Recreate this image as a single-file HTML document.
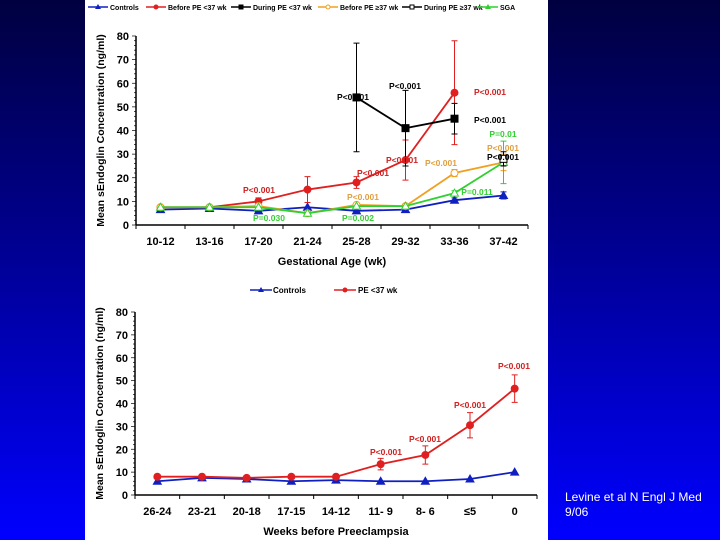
<!DOCTYPE html>
<html><head><meta charset="utf-8"><style>
body{margin:0;width:720px;height:540px;overflow:hidden;background:linear-gradient(#000040,#000090 45%,#0000ff);font-family:"Liberation Sans",sans-serif}
#panel{position:absolute;left:85px;top:0;width:463px;height:540px;background:#fff}
#cite{position:absolute;left:565px;top:490px;color:#fff;font-size:12px;line-height:15px}
svg{position:absolute;left:0;top:0}
</style></head><body>
<div id="panel"></div>
<div id="cite">Levine et al N Engl J Med<br>9/06</div>
<svg id="s" width="720" height="540"></svg>
<script>
const cats1=["10-12","13-16","17-20","21-24","25-28","29-32","33-36","37-42"];
const controls1=[6.5,7,6,7.5,6,6.5,10.5,12.5];
const controlsErr1=[0.5,0.5,0.5,0.5,0.5,0.5,1,1.5];
const beforePE37=[7.5,7.5,10,15,18,27.5,56,null];
const beforePE37Err=[0.5,0.5,1.5,5.5,2.5,8.5,22,0];
const duringPE37=[null,null,null,null,54,41,45,null];
const duringPE37Err=[0,0,0,0,23,16,6.5,0];
const beforePEge37=[7.5,7.5,8,5,8.5,8,22,26.5];
const beforePEge37Err=[0.5,0.5,0.5,0.5,0.5,0.5,1.5,3.5];
const duringPEge37=[null,null,null,null,null,null,null,28];
const duringPEge37Err=[0,0,0,0,0,0,0,3];
const sga=[7.5,7.5,7.5,5,8,8,13.5,26.5];
const sgaErr=[0.5,0.5,0.5,0.5,0.5,0.5,1,9];
const yTicks=[0,10,20,30,40,50,60,70,80];
const cats2=["26-24","23-21","20-18","17-15","14-12","11- 9","8- 6","≤5","0"];
const controls2=[6,7.5,7,6,6.5,6,6,7,10];
const pe2=[8,8,7.5,8,8,13.5,17.5,30.5,46.5];
const pe2Err=[0.5,0.5,0.5,0.5,0.5,2.5,4,5.5,6];

const S=document.getElementById('s');
function el(t,a,txt){const e=document.createElementNS('http://www.w3.org/2000/svg',t);for(const k in a)e.setAttribute(k,a[k]);if(txt!=null)e.textContent=txt;S.appendChild(e);return e;}
function txt(x,y,s,fill,size,anchor,name,extra){const e=el('text',Object.assign({x:x,y:y,fill:fill,'font-size':size,'font-weight':'bold','text-anchor':anchor||'middle'},extra||{}),s);

return e;}

function axes(ax,cats,title,ytitle,nm){
  const l=el('line',{x1:ax.x0,y1:ax.y1,x2:ax.x0,y2:ax.y0,stroke:'#000','stroke-width':1.5});
  
  
  const b=el('line',{x1:ax.x0,y1:ax.y0,x2:ax.x1,y2:ax.y0,stroke:'#000','stroke-width':1.5});
  
  
  for(let v=0;v<=80;v+=2){const y=ax.y(v);el('line',{x1:ax.x0-(v%10===0?4:2),y1:y,x2:ax.x0,y2:y,stroke:'#000','stroke-width':0.7});}
  yTicks.forEach(v=>{const y=ax.y(v);
    txt(ax.x0-7,y+4,String(v),'#000',11,'end',nm+'-y-tick-label');});
  const w=(ax.x1-ax.x0)/cats.length;
  for(let i=0;i<=cats.length;i++)el('line',{x1:ax.x0+i*w,y1:ax.y0,x2:ax.x0+i*w,y2:ax.y0+4,stroke:'#000'});
  cats.forEach((c,i)=>txt(ax.x(i),ax.y0+20,c,'#000',11,'middle',nm+'-x-tick-label'));
  txt((ax.x0+ax.x1)/2,ax.y0+40,title,'#000',11,'middle',nm+'-x-axis-title');
  txt(0,0,ytitle,'#000',10.5,'middle',nm+'-y-axis-title',{transform:`translate(${ax.x0-32},${(ax.y0+ax.y1)/2}) rotate(-90)`});
}
function series(ax,vals,errs,color,marker,name,fillm){
  let d='';vals.forEach((v,i)=>{if(v==null)return;d+=(d?'L':'M')+ax.x(i)+','+ax.y(v);});
  const p=el('path',{d:d,fill:'none',stroke:color,'stroke-width':1.8});
  
  
  vals.forEach((v,i)=>{if(v==null)return;const x=ax.x(i),y=ax.y(v);
    if(errs&&errs[i]>0.6){const e=errs[i];el('path',{d:`M${x},${ax.y(v-e)}V${ax.y(v+e)}M${x-3},${ax.y(v-e)}h6M${x-3},${ax.y(v+e)}h6`,stroke:color,'stroke-width':1});}
    let m;
    if(marker==='tri')m=el('path',{d:`M${x},${y-4}L${x+4},${y+3}L${x-4},${y+3}Z`,fill:fillm||color,stroke:color});
    else if(marker==='sq')m=el('rect',{x:x-3.5,y:y-3.5,width:7,height:7,fill:fillm||color,stroke:color});
    else m=el('circle',{cx:x,cy:y,r:3.5,fill:fillm||color,stroke:color});
    
    
  });
}
function mkAx(x0,x1,y0,y1,n){const w=(x1-x0)/n;return{x0,x1,y0,y1,x:i=>x0+w*(i+0.5),y:v=>y0-(v/80)*(y0-y1)};}

// chart 1
const A=mkAx(136,528,225,36,8);
axes(A,cats1,'Gestational Age (wk)','Mean sEndoglin Concentration (ng/ml)','top-chart');
series(A,controls1,controlsErr1,'#1020c0','tri','controls');
series(A,beforePE37,beforePE37Err,'#e02020','circ','before-pe-lt37');
series(A,duringPE37,duringPE37Err,'#000','sq','during-pe-lt37');
series(A,beforePEge37,beforePEge37Err,'#f0a020','circ','before-pe-ge37','#fff');
series(A,sga,sgaErr,'#30d030','tri','sga','#fff');
series(A,duringPEge37,duringPEge37Err,'#000','sq','during-pe-ge37','#fff');
const R='#d02020',K='#000',O='#e0a040',G='#30d030';
[[259,193,'P<0.001',R],[373,176,'P<0.001',R],[402,163,'P<0.001',R],[490,95,'P<0.001',R],
 [353,100,'P<0.001',K],[405,89,'P<0.001',K],[490,123,'P<0.001',K],[503,160,'P<0.001',K],
 [363,200,'P<0.001',O],[441,166,'P<0.001',O],[503,151,'P<0.001',O],
 [269,221,'P=0.030',G],[358,221,'P=0.002',G],[477,195,'P=0.011',G],[503,137,'P=0.01',G]
].forEach(a=>txt(a[0],a[1],a[2],a[3],8.5,'middle','p-value-label'));
// legend 1
const leg1=[['Controls','#1020c0','tri'],['Before PE <37 wk','#e02020','circ'],['During PE <37 wk','#000','sq'],['Before PE ≥37 wk','#f0a020','circ'],['During PE ≥37 wk','#000','sq'],['SGA','#30d030','tri']];
const lx=[88,146,231,318,402,478];
leg1.forEach((l,i)=>{const x=lx[i];el('line',{x1:x,y1:7,x2:x+20,y2:7,stroke:l[1],'stroke-width':1.5});
  if(l[2]==='tri')el('path',{d:`M${x+10},${4}L${x+13},${9}L${x+7},${9}Z`,fill:l[1]});
  else if(l[2]==='sq')el('rect',{x:x+8,y:5,width:4,height:4,fill:i===4?'#fff':l[1],stroke:l[1]});
  else el('circle',{cx:x+10,cy:7,r:2,fill:i===3?'#fff':l[1],stroke:l[1]});
  txt(x+22,10,l[0],'#000',7,'start','legend-entry');});

// chart 2
const B=mkAx(135,537,495,312,9);
axes(B,cats2,'Weeks before Preeclampsia','Mean sEndoglin Concentration (ng/ml)','bottom-chart');
series(B,controls2,null,'#1020c0','tri','controls-2');
series(B,pe2,pe2Err,'#e02020','circ','pe-lt37-2');
[[386,455,'P<0.001'],[425,442,'P<0.001'],[470,408,'P<0.001'],[514,369,'P<0.001']].forEach(a=>txt(a[0],a[1],a[2],R,8.5,'middle','p-value-label-2'));
el('line',{x1:250,y1:290,x2:272,y2:290,stroke:'#1020c0','stroke-width':1.5});
el('path',{d:'M261,287L264,292L258,292Z',fill:'#1020c0'});
txt(273,293,'Controls','#000',8,'start','legend-entry-2');
el('line',{x1:334,y1:290,x2:356,y2:290,stroke:'#e02020','stroke-width':1.5});
el('circle',{cx:345,cy:290,r:2.5,fill:'#e02020'});
txt(358,293,'PE <37 wk','#000',8,'start','legend-entry-2');
</script>
</body></html>
